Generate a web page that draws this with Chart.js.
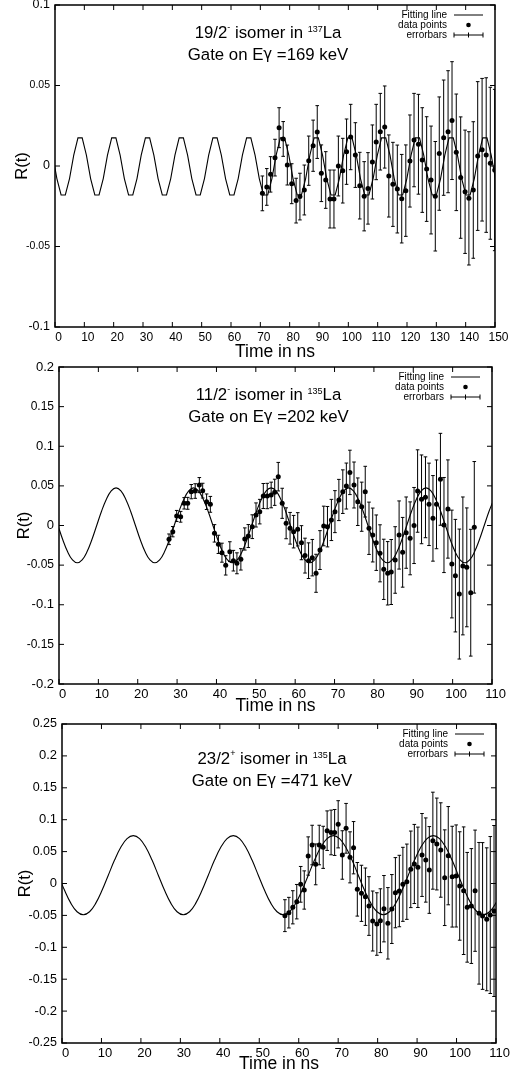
<!DOCTYPE html>
<html>
<head>
<meta charset="utf-8">
<script src="https://cdn.jsdelivr.net/npm/chart.js@4.4.0/dist/chart.umd.min.js"></script>
<style>
  body { margin: 0; background: #fff; width: 518px; height: 1074px; overflow: hidden; position: relative; }
  canvas { position: absolute; left: 0; }
</style>
</head>
<body>
<canvas id="c1" width="518" height="365" style="top:0px"></canvas>
<canvas id="c2" width="518" height="365" style="top:355px"></canvas>
<canvas id="c3" width="518" height="364" style="top:714px"></canvas>
<script>
// ---- panel 1 : 19/2- isomer in 137La ----
const xTicks1 = [0, 10, 20, 30, 40, 50, 60, 70, 80, 90, 100, 110, 120, 130, 140, 150];
const yTicks1 = [-0.1, -0.05, 0, 0.05, 0.1];
const time1 = [70.7, 72.2, 73.5, 75.0, 76.4, 77.8, 79.2, 80.7, 82.2, 83.5, 85.0, 86.5, 88.0, 89.4, 90.8, 92.3,
  93.75, 95.1, 96.6, 98.1, 99.4, 100.8, 102.4, 103.9, 105.4, 106.7, 108.2, 109.5, 110.9, 112.4, 113.8, 115.2,
  116.7, 118.2, 119.6, 121.0, 122.4, 123.9, 125.2, 126.7, 128.2, 129.65, 131.0, 132.5, 134.0, 135.35, 136.8,
  138.3, 139.8, 141.1, 142.6, 144.1, 145.6, 147.0, 148.4, 149.9];
const ratio1 = [-0.017, -0.013, -0.0052, 0.0052, 0.0238, 0.0168, 0.0006, -0.011, -0.0215, -0.019, -0.0149, 0.0033,
  0.0126, 0.0211, -0.0045, -0.0087, -0.0205, -0.0205, 0, -0.0029, 0.0089, 0.018, 0.0068, -0.0122, -0.0188, -0.0139,
  0.0025, 0.0149, 0.0213, 0.0242, -0.0062, -0.0114, -0.0143, -0.0203, -0.0153, 0.0031, 0.0161, 0.0135, 0.0037,
  -0.0019, -0.0087, -0.0188, 0.0077, 0.0176, 0.0213, 0.0282, 0.0085, -0.0072, -0.016, -0.0201, -0.0149, 0.0062,
  0.0101, 0.0068, 0.0017, -0.0025];
const err1 = [0.0108, 0.0114, 0.011, 0.0114, 0.0124, 0.0108, 0.0124, 0.0124, 0.0139, 0.0145, 0.0155, 0.0153,
  0.0159, 0.0164, 0.0176, 0.0176, 0.018, 0.018, 0.0186, 0.0201, 0.0203, 0.0203, 0.0201, 0.0207, 0.0215, 0.0222,
  0.023, 0.0234, 0.0238, 0.0255, 0.0255, 0.0261, 0.0273, 0.0275, 0.0284, 0.0286, 0.029, 0.031, 0.0325, 0.0325,
  0.0335, 0.034, 0.0352, 0.0358, 0.0379, 0.0366, 0.0362, 0.0377, 0.0383, 0.0414, 0.0424, 0.0462, 0.0443, 0.048,
  0.0472, 0.0501];
const fit1Start = -0.7975, fit1Step = 1.4375;
const fit1 = [
  0.0068, -0.0078, -0.018, -0.018, -0.0078, 0.0068, 0.0175, 0.0175,
  0.0068, -0.0078, -0.018, -0.018, -0.0078, 0.0068, 0.0175, 0.0175,
  0.0068, -0.0078, -0.018, -0.018, -0.0078, 0.0068, 0.0175, 0.0175,
  0.0068, -0.0078, -0.018, -0.018, -0.0078, 0.0068, 0.0175, 0.0175,
  0.0068, -0.0078, -0.018, -0.018, -0.0078, 0.0068, 0.0175, 0.0175,
  0.0068, -0.0078, -0.018, -0.018, -0.0078, 0.0068, 0.0175, 0.0175,
  0.0068, -0.0078, -0.018, -0.018, -0.0078, 0.0068, 0.0175, 0.0175,
  0.0068, -0.0078, -0.018, -0.018, -0.0078, 0.0068, 0.0175, 0.0175,
  0.0068, -0.0078, -0.018, -0.018, -0.0078, 0.0068, 0.0175, 0.0175,
  0.0068, -0.0078, -0.018, -0.018, -0.0078, 0.0068, 0.0175, 0.0175,
  0.0068, -0.0078, -0.018, -0.018, -0.0078, 0.0068, 0.0175, 0.0175,
  0.0068, -0.0078, -0.018, -0.018, -0.0078, 0.0068, 0.0175, 0.0175,
  0.0068, -0.0078, -0.018, -0.018, -0.0078, 0.0068, 0.0175, 0.0175,
  0.0068, -0.0078];

// ---- panel 2 : 11/2- isomer in 135La ----
const xTicks2 = [0, 10, 20, 30, 40, 50, 60, 70, 80, 90, 100, 110];
const yTicks2 = [-0.2, -0.15, -0.1, -0.05, 0, 0.05, 0.1, 0.15, 0.2];
const time2 = [27.95, 28.9, 29.9, 30.9, 31.8, 32.7, 33.6, 34.6, 35.65, 36.5, 37.5, 38.45, 39.5, 40.5, 41.4, 42.35,
  43.4, 44.3, 45.2, 46.2, 47.2, 48.1, 49.1, 50.05, 51.0, 51.9, 52.9, 53.9, 54.8, 55.7, 56.7, 57.7, 58.7, 59.6,
  60.65, 61.6, 62.5, 63.4, 64.35, 65.3, 66.3, 67.25, 68.2, 69.2, 70.1, 71.1, 72.1, 73.0, 73.9, 74.95, 75.9, 76.9,
  77.8, 78.75, 79.7, 80.6, 81.55, 82.5, 83.5, 84.4, 85.4, 86.4, 87.3, 88.2, 89.2, 90.2, 91.1, 92.1, 93.1, 94.0,
  95.0, 95.9, 96.9, 97.8, 98.8, 99.8, 100.7, 101.7, 102.6, 103.6, 104.6, 105.5];
const ratio2 = [-0.0174, -0.0078, 0.012, 0.011, 0.028, 0.028, 0.0427, 0.0435, 0.051, 0.044, 0.030, 0.0267, -0.0099,
  -0.0238, -0.0343, -0.0503, -0.033, -0.0444, -0.0477, -0.0427, -0.017, -0.0133, -0.0015, 0.0133, 0.0175, 0.0372,
  0.0372, 0.0385, 0.0419, 0.0616, 0.028, 0.0028, -0.0035, -0.0078, -0.0048, -0.0217, -0.038, -0.0444, -0.0406,
  -0.0603, -0.031, -0.0006, -0.0015, 0.007, 0.0175, 0.0322, 0.0427, 0.0498, 0.067, 0.0511, 0.030, 0.0237, 0.0427,
  -0.0035, -0.012, -0.0217, -0.0351, -0.0553, -0.0603, -0.0587, -0.0435, -0.012, -0.0338, -0.009, -0.0162, 0.0,
  0.0435, 0.033, 0.0356, 0.0267, 0.009, 0.0267, 0.0583, 0.0006, 0.0208, -0.0486, -0.0633, -0.0865, -0.051, -0.0528,
  -0.0848, -0.0023];
const err2 = [0.0067, 0.0065, 0.007, 0.0068, 0.0072, 0.0075, 0.009, 0.0092, 0.0095, 0.0093, 0.0098, 0.010, 0.011,
  0.0115, 0.012, 0.0122, 0.0125, 0.013, 0.0132, 0.0135, 0.014, 0.0145, 0.015, 0.0152, 0.0155, 0.0158, 0.016, 0.0162,
  0.0165, 0.018, 0.019, 0.0195, 0.020, 0.0205, 0.021, 0.0215, 0.022, 0.0225, 0.023, 0.024, 0.0245, 0.025, 0.0255,
  0.026, 0.0265, 0.026, 0.0275, 0.029, 0.028, 0.029, 0.030, 0.031, 0.032, 0.033, 0.034, 0.035, 0.036, 0.038, 0.040,
  0.041, 0.042, 0.043, 0.044, 0.045, 0.046, 0.048, 0.052, 0.056, 0.051, 0.052, 0.054, 0.056, 0.058, 0.06, 0.062,
  0.068, 0.071, 0.082, 0.087, 0.075, 0.08, 0.083];
const fit2Start = -0.27, fit2Step = 1.2306;
const fit2 = [
  0, -0.018, -0.0332, -0.0434, -0.047, -0.0434, -0.0332, -0.018, 0, 0.018, 0.0332, 0.0436, 0.0475, 0.0436, 0.0332, 0.018,
  0, -0.018, -0.0332, -0.0434, -0.047, -0.0434, -0.0332, -0.018, 0, 0.018, 0.0332, 0.0436, 0.0475, 0.0436, 0.0332, 0.018,
  0, -0.018, -0.0332, -0.0434, -0.047, -0.0434, -0.0332, -0.018, 0, 0.018, 0.0332, 0.0436, 0.0475, 0.0436, 0.0332, 0.018,
  0, -0.018, -0.0332, -0.0434, -0.047, -0.0434, -0.0332, -0.018, 0, 0.018, 0.0332, 0.0436, 0.0475, 0.0436, 0.0332, 0.018,
  0, -0.018, -0.0332, -0.0434, -0.047, -0.0434, -0.0332, -0.018, 0, 0.018, 0.0332, 0.0436, 0.0475, 0.0436, 0.0332, 0.018,
  0, -0.018, -0.0332, -0.0434, -0.047, -0.0434, -0.0332, -0.018, 0, 0.018, 0.0332];

// ---- panel 3 : 23/2+ isomer in 135La ----
const xTicks3 = [0, 10, 20, 30, 40, 50, 60, 70, 80, 90, 100, 110];
const yTicks3 = [-0.25, -0.2, -0.15, -0.1, -0.05, 0, 0.05, 0.1, 0.15, 0.2, 0.25];
const time3 = [56.5, 57.5, 58.5, 59.5, 60.5, 61.4, 62.4, 63.4, 64.3, 65.2, 66.2, 67.2, 68.2, 69.1, 70.0, 71.05, 72.0,
  73.0, 73.9, 74.85, 75.9, 76.9, 77.8, 78.75, 79.8, 80.7, 81.6, 82.6, 83.6, 84.5, 85.5, 86.4, 87.4, 88.4, 89.3, 90.2,
  91.25, 92.2, 93.1, 94.0, 95.0, 96.0, 97.0, 97.9, 98.9, 99.9, 100.8, 101.8, 102.7, 103.75, 104.7, 105.7, 106.6,
  107.65, 108.55, 109.5];
const ratio3 = [-0.0504, -0.0457, -0.0373, -0.0285, -0.0013, -0.0102, 0.0431, 0.0603, 0.030, 0.0603, 0.0567, 0.0828,
  0.08, 0.08, 0.0928, 0.0447, 0.0865, 0.041, 0.0561, -0.0091, -0.0154, -0.0207, -0.0353, -0.0588, -0.0635, -0.0583,
  -0.0395, -0.0624, -0.040, -0.0144, -0.0118, -0.0013, 0.0028, 0.0222, 0.0306, 0.0254, 0.0447, 0.0368, 0.0212,
  0.0671, 0.0619, 0.0525, 0.0091, 0.0436, 0.0107, 0.0118, -0.0039, -0.0113, -0.0373, -0.0353, -0.0113, -0.0467,
  -0.0509, -0.0561, -0.0494, -0.0431];
const err3 = [0.025, 0.024, 0.026, 0.027, 0.028, 0.03, 0.03, 0.031, 0.032, 0.031, 0.033, 0.031, 0.035, 0.036, 0.037,
  0.038, 0.039, 0.04, 0.041, 0.042, 0.044, 0.045, 0.046, 0.047, 0.049, 0.05, 0.052, 0.056, 0.054, 0.055, 0.056,
  0.058, 0.059, 0.06, 0.062, 0.063, 0.065, 0.066, 0.068, 0.076, 0.072, 0.074, 0.075, 0.077, 0.079, 0.08, 0.085, 0.1,
  0.086, 0.09, 0.095, 0.111, 0.115, 0.112, 0.123, 0.134];
const fit3Start = -0.937, fit3Step = 1.584;
const fit3 = [
  0.013, -0.0107, -0.0308, -0.0443, -0.049, -0.0443, -0.0308, -0.0107, 0.013, 0.0367, 0.0568, 0.0703, 0.075, 0.0703, 0.0568, 0.0367,
  0.013, -0.0107, -0.0308, -0.0443, -0.049, -0.0443, -0.0308, -0.0107, 0.013, 0.0367, 0.0568, 0.0703, 0.075, 0.0703, 0.0568, 0.0367,
  0.013, -0.0107, -0.0308, -0.0443, -0.049, -0.0443, -0.0308, -0.0107, 0.013, 0.0367, 0.0568, 0.0703, 0.075, 0.0703, 0.0568, 0.0367,
  0.013, -0.0107, -0.0308, -0.0443, -0.049, -0.0443, -0.0308, -0.0107, 0.013, 0.0367, 0.0568, 0.0703, 0.075, 0.0703, 0.0568, 0.0367,
  0.013, -0.0107, -0.0308, -0.0443, -0.049, -0.0443, -0.0308, -0.0107];

const legendRows = ["Fitting line", "data points", "errorbars"];

const FONT = '"Liberation Sans", Arial, Helvetica, sans-serif';
const GREEK = '"DejaVu Sans", sans-serif';

// vertical error bars with small caps, drawn under the points
const errorBars = {
  id: "errorBars",
  beforeDatasetsDraw(chart) {
    const { ctx, chartArea: a, scales: { x, y } } = chart;
    ctx.save();
    ctx.beginPath();
    ctx.rect(a.left, a.top, a.width, a.height);
    ctx.clip();
    ctx.strokeStyle = "#000";
    ctx.lineWidth = 1;
    chart.data.datasets.forEach((ds) => {
      if (!ds.errors) return;
      ds.data.forEach((p, i) => {
        const px = x.getPixelForValue(p.x);
        const top = y.getPixelForValue(p.y + ds.errors[i]);
        const bot = y.getPixelForValue(p.y - ds.errors[i]);
        ctx.beginPath();
        ctx.moveTo(px, top);
        ctx.lineTo(px, bot);
        ctx.moveTo(px - 1.8, top);
        ctx.lineTo(px + 1.8, top);
        ctx.moveTo(px - 1.8, bot);
        ctx.lineTo(px + 1.8, bot);
        ctx.stroke();
      });
    });
    ctx.restore();
  },
};

// gnuplot style box with inward ticks on all four sides
const frame = {
  id: "frame",
  afterDatasetsDraw(chart) {
    const { ctx, chartArea: a, scales: { x, y } } = chart;
    ctx.save();
    ctx.strokeStyle = "#000";
    ctx.lineWidth = 1;
    ctx.beginPath();
    x.ticks.forEach((t, i) => {
      const px = x.getPixelForTick(i);
      ctx.moveTo(px, a.bottom);
      ctx.lineTo(px, a.bottom - 5);
      ctx.moveTo(px, a.top);
      ctx.lineTo(px, a.top + 5);
    });
    y.ticks.forEach((t, i) => {
      const py = y.getPixelForTick(i);
      ctx.moveTo(a.left, py);
      ctx.lineTo(a.left + 5, py);
      ctx.moveTo(a.right, py);
      ctx.lineTo(a.right - 5, py);
    });
    ctx.stroke();
    ctx.lineWidth = 1.5;
    ctx.strokeRect(a.left, a.top, a.width, a.height);
    ctx.restore();
  },
};

// parts: [text, raise, size, family]
function drawRich(ctx, parts, cx, cy) {
  const fontOf = (pt) => (pt[2] || 16.8) + "px " + (pt[3] || FONT);
  let w = 0;
  parts.forEach((pt) => {
    ctx.font = fontOf(pt);
    w += ctx.measureText(pt[0]).width;
  });
  let xx = cx - w / 2;
  parts.forEach((pt) => {
    ctx.font = fontOf(pt);
    ctx.fillText(pt[0], xx, cy - (pt[1] || 0));
    xx += ctx.measureText(pt[0]).width;
  });
}

function makePanel(id, p) {
  const fitPts = p.fit.map((v, k) => ({ x: p.fitStart + k * p.fitStep, y: v }));
  const pts = p.time.map((t, i) => ({ x: t, y: p.ratio[i] }));

  const notes = {
    id: "notes",
    afterDraw(chart) {
      const { ctx, chartArea: a } = chart;
      ctx.save();
      ctx.fillStyle = "#000";
      ctx.textBaseline = "middle";
      ctx.textAlign = "left";
      const cx = (a.left + a.right) / 2 - 7;
      drawRich(ctx, p.line1, cx, a.top + p.textY[0]);
      drawRich(ctx, [["Gate on E"], ["\u03b3", 0, 15, GREEK], [" =" + p.energy + " keV"]], cx, a.top + p.textY[1]);

      // legend
      ctx.font = "10px " + FONT;
      ctx.textAlign = "right";
      const tx = a.right - 48, s0 = a.right - 41, s1 = a.right - 12;
      legendRows.forEach((label, i) => {
        ctx.fillText(label, tx, a.top + 10 + i * 10);
      });
      ctx.strokeStyle = "#000";
      ctx.lineWidth = 1;
      ctx.beginPath();
      let yy = a.top + 10;
      ctx.moveTo(s0, yy); ctx.lineTo(s1, yy);
      yy = a.top + 30;
      ctx.moveTo(s0, yy); ctx.lineTo(s1, yy);
      ctx.moveTo(s0, yy - 2.5); ctx.lineTo(s0, yy + 2.5);
      ctx.moveTo(s1, yy - 2.5); ctx.lineTo(s1, yy + 2.5);
      ctx.moveTo((s0 + s1) / 2, yy - 2.5); ctx.lineTo((s0 + s1) / 2, yy + 2.5);
      ctx.stroke();
      ctx.beginPath();
      ctx.arc((s0 + s1) / 2, a.top + 20, 2.3, 0, Math.PI * 2);
      ctx.fill();
      ctx.restore();
    },
  };

  return new Chart(document.getElementById(id), {
    type: "scatter",
    data: {
      datasets: [
        { type: "line", data: fitPts, borderColor: "#000", borderWidth: 1.1, pointRadius: 0, tension: p.tension, fill: false },
        { data: pts, errors: p.err, pointRadius: 2.5, backgroundColor: "#000", borderWidth: 0 },
      ],
    },
    options: {
      responsive: false,
      animation: false,
      events: [],
      layout: { padding: { top: p.padTop, right: p.padRight, left: 0, bottom: 0 } },
      plugins: { legend: { display: false }, tooltip: { enabled: false } },
      scales: {
        x: {
          type: "linear",
          min: p.xTicks[0],
          max: p.xTicks[p.xTicks.length - 1],
          afterBuildTicks: (s) => { s.ticks = p.xTicks.map((v) => ({ value: v })); },
          afterFit: (s) => { s.height = p.xh; s.paddingLeft = 0; s.paddingRight = 0; },
          grid: { display: false, drawTicks: false },
          border: { display: false },
          ticks: { autoSkip: false, maxRotation: 0, padding: 3, labelOffset: 3.5, color: "#000",
            font: { family: FONT, size: p.xFont } },
          title: { display: true, text: "Time in ns", color: "#000", font: { family: FONT, size: 17.5 },
            padding: { top: 0, bottom: p.xTitlePad } },
        },
        y: {
          type: "linear",
          min: p.yTicks[0],
          max: p.yTicks[p.yTicks.length - 1],
          afterBuildTicks: (s) => { s.ticks = p.yTicks.map((v) => ({ value: v })); },
          afterFit: (s) => { s.width = p.yw; s.paddingTop = 0; s.paddingBottom = 0; },
          grid: { display: false, drawTicks: false },
          border: { display: false },
          ticks: { autoSkip: false, padding: 5, color: "#000",
            callback: (v) => String(v),
            font: (c) => ({ family: FONT,
              size: c.tick && Math.round(Math.abs(c.tick.value) * 100) % 10 !== 0 ? p.ySmall : p.yBig }) },
          title: { display: true, text: "R(t)", color: "#000", font: { family: FONT, size: 16.5 },
            padding: { top: p.yTitlePad, bottom: 0 } },
        },
      },
    },
    plugins: [errorBars, frame, notes],
  });
}

makePanel("c1", {
  time: time1, ratio: ratio1, err: err1, fit: fit1, fitStart: fit1Start, fitStep: fit1Step,
  xTicks: xTicks1, yTicks: yTicks1, tension: 0,
  padTop: 5, padRight: 23, yw: 55, xh: 38, xFont: 12, yBig: 12.5, ySmall: 10.5, xTitlePad: 2, yTitlePad: 13,
  line1: [["19/2"], ["-", 5, 9], [" isomer in "], ["137", 3, 9], ["La"]],
  energy: "169", textY: [28, 50],
});

makePanel("c2", {
  time: time2, ratio: ratio2, err: err2, fit: fit2, fitStart: fit2Start, fitStep: fit2Step,
  xTicks: xTicks2, yTicks: yTicks2, tension: 0.4,
  padTop: 12, padRight: 26, yw: 59, xh: 36, xFont: 13, yBig: 13, ySmall: 12, xTitlePad: 3, yTitlePad: 15,
  line1: [["11/2"], ["-", 5, 9], [" isomer in "], ["135", 3, 9], ["La"]],
  energy: "202", textY: [28, 50],
});

makePanel("c3", {
  time: time3, ratio: ratio3, err: err3, fit: fit3, fitStart: fit3Start, fitStep: fit3Step,
  xTicks: xTicks3, yTicks: yTicks3, tension: 0.4,
  padTop: 10, padRight: 22, yw: 62, xh: 35, xFont: 13, yBig: 13, ySmall: 12.5, xTitlePad: 3, yTitlePad: 15.5,
  line1: [["23/2"], ["+", 5, 9], [" isomer in "], ["135", 3, 9], ["La"]],
  energy: "471", textY: [35, 57],
});
</script>
</body>
</html>
